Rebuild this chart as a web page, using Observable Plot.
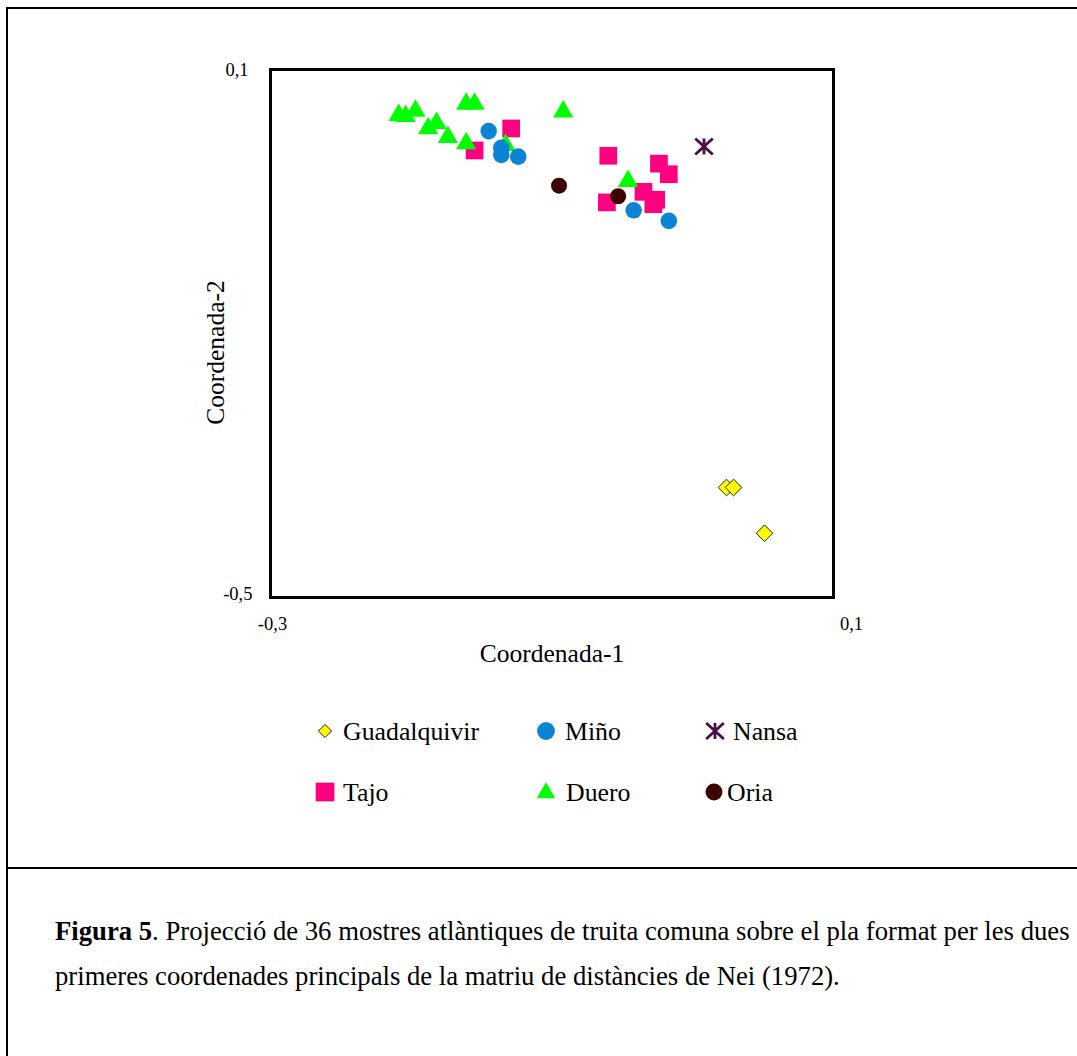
<!DOCTYPE html>
<html><head><meta charset="utf-8">
<script src="https://cdn.jsdelivr.net/npm/d3@7"></script>
<script src="https://cdn.jsdelivr.net/npm/@observablehq/plot@0.6"></script>
<style>
html,body{margin:0;padding:0;background:#fff;}
#page{position:relative;width:1077px;height:1056px;overflow:hidden;font-family:"Liberation Serif","Times New Roman",serif;color:#000;background:#fff;}
#box{position:absolute;left:6px;top:7px;width:1100px;height:1100px;border-top:2px solid #000;border-left:2px solid #000;}
#rule{position:absolute;left:6px;top:867px;width:1100px;height:2px;background:#000;}
#chart{position:absolute;left:0;top:0;}
#legend{position:absolute;left:0;top:700px;}
#caption{position:absolute;left:55px;top:909px;font-size:26.7px;line-height:45px;white-space:nowrap;}
</style></head><body>
<div id="page">
  <div id="box"></div>
  <div id="rule"></div>
  <div id="chart"></div>
  <div id="legend"></div>
  <div id="caption"><b>Figura 5</b>. Projecció de 36 mostres atlàntiques de truita comuna sobre el pla format per les dues<br>primeres coordenades principals de la matriu de distàncies de Nei (1972).</div>
</div>
<script>
// ---- Data ----
const seriesNames = ["Guadalquivir", "Miño", "Nansa", "Tajo", "Duero", "Oria"];

const guadalquivirX = [0.024, 0.029, 0.051];
const guadalquivirY = [-0.375, -0.375, -0.427];

const minoX = [-0.145, -0.136, -0.136, -0.124, -0.042, -0.017];
const minoY = [0.030, 0.011, 0.003, 0.001, -0.060, -0.072];

const nansaX = [0.008];
const nansaY = [0.0125];

const tajoX = [-0.129, -0.155, -0.060, -0.024, -0.017, -0.061, -0.035, -0.026, -0.028];
const tajoY = [0.033, 0.008, 0.002, -0.007, -0.019, -0.051, -0.039, -0.048, -0.053];

const dueroX = [-0.209, -0.204, -0.197, -0.188, -0.182, -0.174, -0.161, -0.161, -0.155, -0.133, -0.092, -0.046];
const dueroY = [0.048, 0.047, 0.053, 0.033, 0.039, 0.023, 0.016, 0.061, 0.061, 0.014, 0.052, -0.027];

const oriaX = [-0.095, -0.053];
const oriaY = [-0.032, -0.044];

const xTicks = [-0.3, 0.1];
const yTicks = [-0.5, 0.1];
const xLabel = "Coordenada-1";
const yLabel = "Coordenada-2";

// ---- Helpers ----
const fmt = d => String(d).replace(".", ",");
const pts = (xs, ys) => xs.map((x, i) => ({x, y: ys[i]}));
const asteriskX = {
  draw(ctx, size) {
    const s = Math.sqrt(size) * 0.5;
    const w = s * 1.1;
    ctx.moveTo(0, -s); ctx.lineTo(0, s);
    ctx.moveTo(-w, -s); ctx.lineTo(w, s);
    ctx.moveTo(w, -s); ctx.lineTo(-w, s);
  }
};
const font = "'Liberation Serif','Times New Roman',serif";

const colors = {
  Guadalquivir: "#ffff00", "Miño": "#0b84d6", Nansa: "#4b0b4b",
  Tajo: "#ff0080", Duero: "#00ff00", Oria: "#3d0000"
};

const tickFont = 18.5;
const chart = Plot.plot({
  width: 1077, height: 700,
  marginLeft: 270, marginRight: 244, marginTop: 69, marginBottom: 103,
  x: {domain: [-0.3, 0.1]},
  y: {domain: [-0.5, 0.1]},
  style: {fontFamily: font, fontSize: "18px", background: "transparent", color: "#000", overflow: "visible"},
  marks: [
    Plot.axisY([yTicks[1]], {tickSize: 0, tickPadding: 22, tickFormat: fmt, label: null, dy: 1, fontSize: tickFont}),
    Plot.axisY([yTicks[0]], {tickSize: 0, tickPadding: 18, tickFormat: fmt, label: null, dy: -3, fontSize: tickFont}),
    Plot.axisX([xTicks[0]], {tickSize: 0, tickPadding: 19, tickFormat: fmt, label: null, dx: 2, fontSize: tickFont}),
    Plot.axisX([xTicks[1]], {tickSize: 0, tickPadding: 19, tickFormat: fmt, label: null, dx: 18, fontSize: tickFont}),
    Plot.frame({stroke: "#000", strokeWidth: 3}),
    Plot.text([xLabel], {text: d => d, frameAnchor: "bottom", textAnchor: "middle", lineAnchor: "middle", dy: 56, fontSize: 25.5}),
    Plot.text([yLabel], {text: d => d, frameAnchor: "left", textAnchor: "middle", lineAnchor: "middle", dx: -55, dy: 19, rotate: -90, fontSize: 25.5}),
    Plot.dot(pts(tajoX, tajoY), {x: "x", y: "y", symbol: "square", r: 10, fill: colors.Tajo}),
    Plot.dot(pts(dueroX, dueroY), {x: "x", y: "y", symbol: "triangle", r: 7.5, fill: colors.Duero}),
    Plot.dot(pts(minoX, minoY), {x: "x", y: "y", symbol: "circle", r: 8.3, fill: colors["Miño"]}),
    Plot.dot(pts(oriaX, oriaY), {x: "x", y: "y", symbol: "circle", r: 8, fill: colors.Oria}),
    Plot.dot(pts(nansaX, nansaY), {x: "x", y: "y", symbol: asteriskX, r: 9, fill: "none", stroke: colors.Nansa, strokeWidth: 2.8}),
    Plot.dot(pts(guadalquivirX, guadalquivirY), {x: "x", y: "y", symbol: "diamond2", r: 7.5, fill: colors.Guadalquivir, stroke: "#222", strokeWidth: 1})
  ]
});
document.getElementById("chart").appendChild(chart);

// ---- Legend ----
const legendItems = [
  {name: "Guadalquivir", sym: d3.symbolDiamond2, size: 110, fill: colors.Guadalquivir, stroke: "#222", sw: 1, col: 0, row: 0},
  {name: "Miño", sym: d3.symbolCircle, size: 250, fill: colors["Miño"], col: 1, row: 0},
  {name: "Nansa", sym: asteriskX, size: 256, fill: "none", stroke: colors.Nansa, sw: 2.8, col: 2, row: 0},
  {name: "Tajo", sym: d3.symbolSquare, size: 350, fill: colors.Tajo, col: 0, row: 1},
  {name: "Duero", sym: d3.symbolTriangle, size: 150, fill: colors.Duero, col: 1, row: 1},
  {name: "Oria", sym: d3.symbolCircle, size: 225, fill: colors.Oria, col: 2, row: 1}
];
const colSym = [325, 546, 715];
const colText = [[343, 343], [565, 566], [733, 727]];
const rowY = [31, 92];
const lsvg = d3.select("#legend").append("svg").attr("width", 1077).attr("height", 150)
  .style("font-family", font).style("font-size", "25.8px");
for (const it of legendItems) {
  lsvg.append("path")
    .attr("transform", `translate(${it.name === "Oria" ? 714 : colSym[it.col]},${rowY[it.row] + (it.name === "Duero" ? 1 : 0)})`)
    .attr("d", d3.symbol(it.sym, it.size)())
    .attr("fill", it.fill)
    .attr("stroke", it.stroke || "none")
    .attr("stroke-width", it.sw || 0);
  lsvg.append("text")
    .attr("x", colText[it.col][it.row])
    .attr("y", rowY[it.row])
    .attr("dy", "0.35em")
    .text(it.name);
}
</script>
</body></html>
